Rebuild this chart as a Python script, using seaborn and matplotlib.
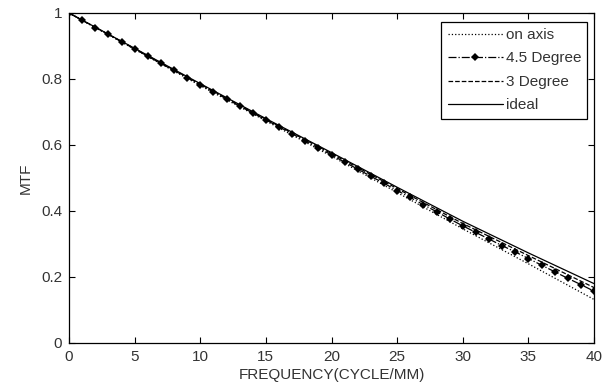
import numpy as np
import pandas as pd
import matplotlib
matplotlib.use('Agg')
import matplotlib.pyplot as plt
import seaborn as sns

# Values
freq_coarse = [0, 5, 10, 15, 20, 25, 30, 35, 40]
ideal = [1.0, 0.893, 0.786, 0.680, 0.577, 0.472, 0.369, 0.273, 0.180]
deg3 = [1.0, 0.892, 0.784, 0.678, 0.574, 0.468, 0.362, 0.265, 0.168]
on_axis = [1.0, 0.890, 0.780, 0.673, 0.566, 0.456, 0.346, 0.240, 0.132]

freq_fine = list(range(0, 41))
deg45 = [1.000, 0.978, 0.956, 0.935, 0.913, 0.891, 0.869, 0.847, 0.826, 0.804,
         0.782, 0.761, 0.740, 0.718, 0.697, 0.676, 0.655, 0.634, 0.612, 0.591,
         0.570, 0.548, 0.527, 0.505, 0.484, 0.462, 0.441, 0.419, 0.398, 0.376,
         0.355, 0.335, 0.315, 0.295, 0.276, 0.256, 0.236, 0.216, 0.196, 0.177,
         0.157]

x_ticks = [0, 5, 10, 15, 20, 25, 30, 35, 40]
y_ticks = [0, 0.2, 0.4, 0.6, 0.8, 1.0]
y_ticklabels = ['0', '0.2', '0.4', '0.6', '0.8', '1']

sns.set_style('ticks')
plt.rcParams['font.family'] = ['Liberation Sans', 'DejaVu Sans']
plt.rcParams['font.size'] = 11
plt.rcParams['text.color'] = '#333333'
plt.rcParams['axes.labelcolor'] = '#333333'

fig = plt.figure(figsize=(6.05, 3.9), dpi=100)
ax = fig.add_axes([69 / 605, 47 / 390, 525 / 605, 330 / 390])

lw = 0.9
sns.lineplot(x=freq_coarse, y=on_axis, ax=ax, color='k', linestyle=':', linewidth=lw, label='on axis')
sns.lineplot(x=freq_fine, y=deg45, ax=ax, color='k', linestyle='-.', linewidth=lw,
             marker='D', markersize=4.2, markeredgewidth=0, label='4.5 Degree')
sns.lineplot(x=freq_coarse, y=deg3, ax=ax, color='k', linestyle='--', linewidth=lw, label='3 Degree')
sns.lineplot(x=freq_coarse, y=ideal, ax=ax, color='k', linestyle='-', linewidth=lw, label='ideal')

ax.set_xlim(0, 40)
ax.set_ylim(0, 1)
ax.set_xticks(x_ticks)
ax.set_yticks(y_ticks)
ax.set_yticklabels(y_ticklabels)
ax.tick_params(direction='in', length=4, width=0.8, top=True, right=True, pad=5,
               color='k', labelcolor='#333333')
for s in ax.spines.values():
    s.set_visible(True)
    s.set_linewidth(0.9)
    s.set_color('k')

ax.set_xlabel('FREQUENCY(CYCLE/MM)', labelpad=3)
ax.set_ylabel('MTF', labelpad=6)

leg = ax.legend(loc='upper right', bbox_to_anchor=(0.987, 0.973), borderaxespad=0,
                frameon=True, fancybox=False, handlelength=3.6, handletextpad=0.2,
                labelspacing=0.62, borderpad=0.4, numpoints=1)
leg.get_frame().set_edgecolor('k')
leg.get_frame().set_linewidth(0.9)
leg.get_frame().set_alpha(1)

fig.savefig('out.png', dpi=100)
